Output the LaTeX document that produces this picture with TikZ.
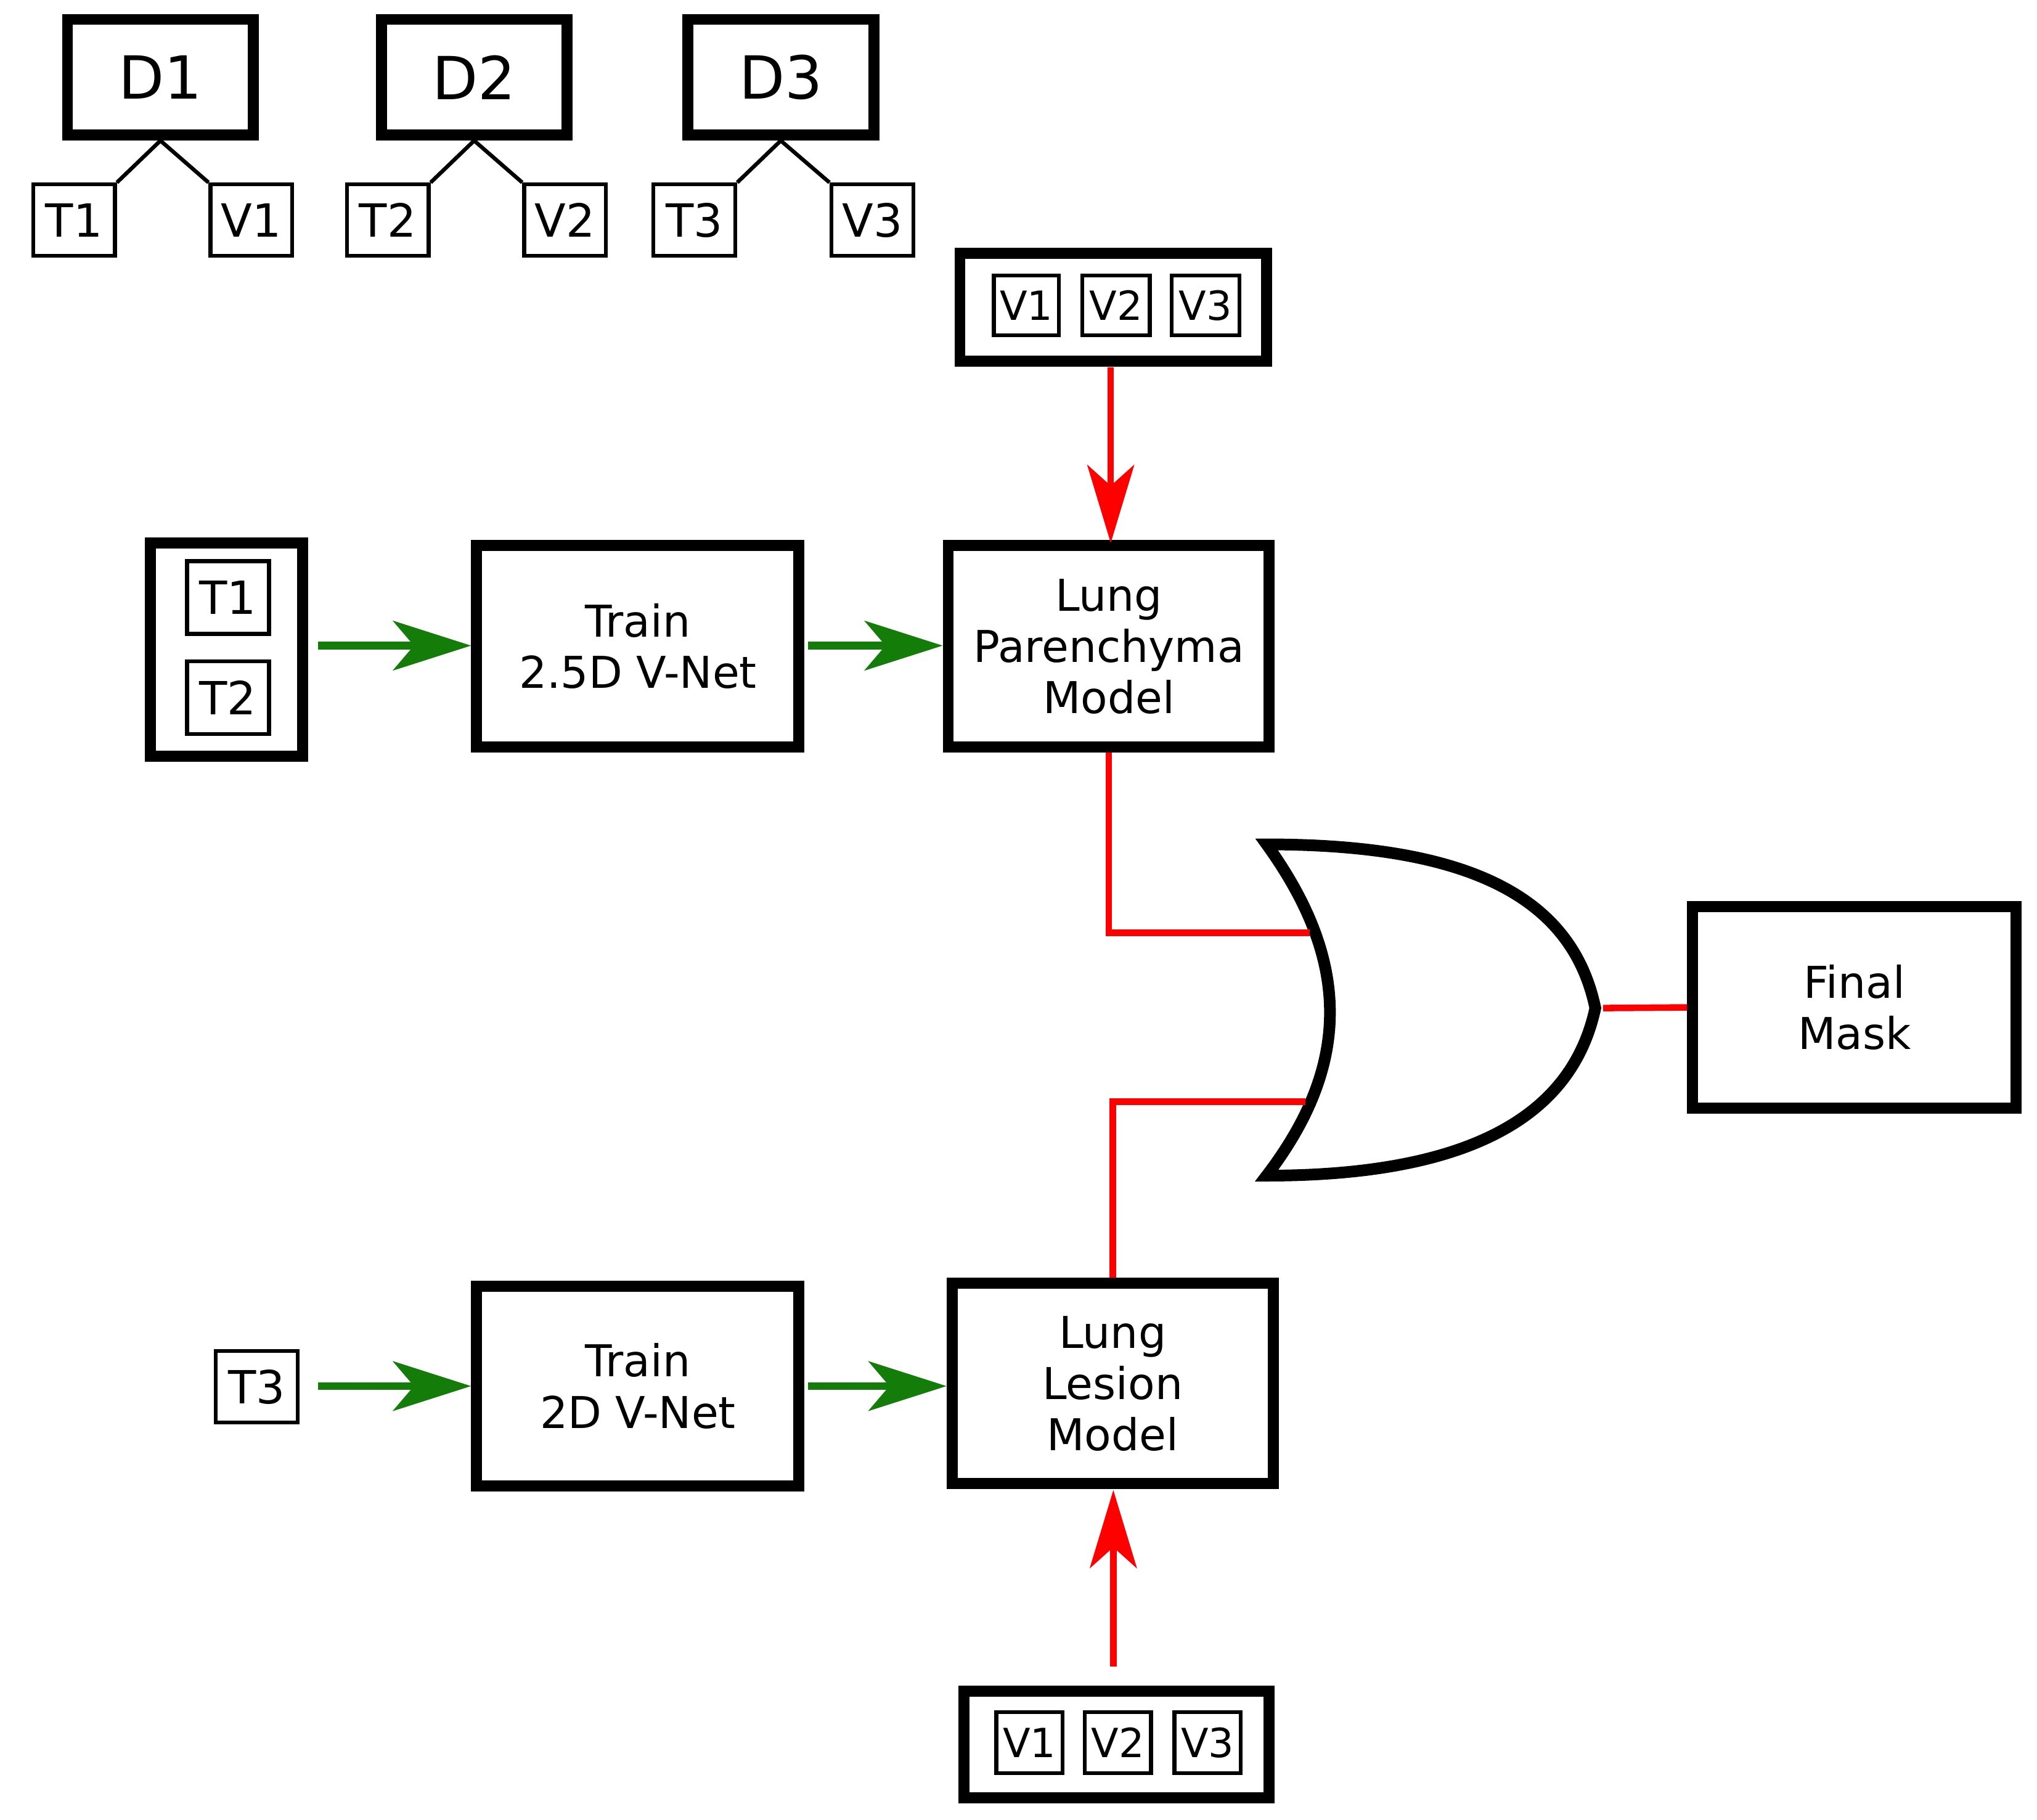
\documentclass[tikz,border=0pt]{standalone}
\usepackage{fontspec}
\setmainfont{DejaVu Sans}
\usetikzlibrary{arrows.meta}
\begin{document}
\begin{tikzpicture}[x=0.01cm,y=-0.01cm,
 big/.style={draw,line width=0.085cm,inner sep=0,align=center,font=\fontsize{9.6}{11.2}\selectfont},
 dbox/.style={draw,line width=0.085cm,inner sep=0,font=\fontsize{13}{15}\selectfont},
 sm/.style={draw,line width=0.03cm,inner sep=0,font=\fontsize{10}{12}\selectfont},
 smi/.style={draw,line width=0.03cm,inner sep=0,font=\fontsize{8.8}{10}\selectfont},
 grp/.style={draw,line width=0.085cm,inner sep=0},
 garr/.style={draw={rgb,255:red,20;green,125;blue,10},line width=0.06cm,-{Stealth[length=0.6cm,width=0.38cm,inset=0.16cm]}},
 rarr/.style={draw=red,line width=0.05cm,-{Stealth[length=0.6cm,width=0.36cm,inset=0.16cm]}},
 rl/.style={draw=red,line width=0.05cm}]
\useasboundingbox (0,0) rectangle (1568,1401);
% D trees
\foreach \n/\dx/\tx/\vx in {1/123.5/57/193.5,2/365/298.5/435,3/601/534.5/671.5}{
 \node[dbox,minimum width=1.43cm,minimum height=0.89cm] (D\n) at (\dx,59.5) {D\n};
 \node[sm,minimum width=0.63cm,minimum height=0.55cm] (T\n) at (\tx,169.5) {T\n};
 \node[sm,minimum width=0.63cm,minimum height=0.55cm] (V\n) at (\vx,169.5) {V\n};
 \draw[line width=0.03cm] (T\n.north east) -- (D\n.south) -- (V\n.north west);
}
% top V group
\node[grp,minimum width=2.36cm,minimum height=0.83cm] (gv) at (857,236.5) {};
\node[smi,minimum width=0.5cm,minimum height=0.46cm] (gv1) at (790,235) {V1};
\node[smi,minimum width=0.52cm,minimum height=0.46cm] (gv2) at (859,235) {V2};
\node[smi,minimum width=0.52cm,minimum height=0.46cm] (gv3) at (928,235) {V3};
% T group
\node[grp,minimum width=1.17cm,minimum height=1.64cm] (gt) at (174.5,500) {};
\node[sm,minimum width=0.63cm,minimum height=0.56cm] (gt1) at (175.5,460) {T1};
\node[sm,minimum width=0.63cm,minimum height=0.56cm] (gt2) at (175.5,537) {T2};
% main boxes
\node[big,minimum width=2.48cm,minimum height=1.55cm] (tr1) at (491,497.5) {Train\\2.5D V-Net};
\node[big,minimum width=2.47cm,minimum height=1.55cm] (lpm) at (853.5,497.5) {Lung\\Parenchyma\\Model};
\node[big,minimum width=2.49cm,minimum height=1.55cm] (fm) at (1427.5,775.5) {Final\\Mask};
\node[big,minimum width=2.47cm,minimum height=1.54cm] (llm) at (856.5,1065) {Lung\\Lesion\\Model};
\node[big,minimum width=2.48cm,minimum height=1.54cm] (tr2) at (491,1067) {Train\\2D V-Net};
\node[sm,minimum width=0.63cm,minimum height=0.55cm] (t3) at (197.5,1067.5) {T3};
% bottom V group
\node[grp,minimum width=2.35cm,minimum height=0.82cm] (bv) at (859.5,1343) {};
\node[smi,minimum width=0.51cm,minimum height=0.47cm] (bv1) at (792.5,1341.5) {V1};
\node[smi,minimum width=0.51cm,minimum height=0.47cm] (bv2) at (860.5,1341.5) {V2};
\node[smi,minimum width=0.51cm,minimum height=0.47cm] (bv3) at (929.5,1341.5) {V3};
% OR gate
\draw[line width=0.09cm,line join=miter] (975,650) .. controls (1040,740) and (1040,820) .. (975,905)
 .. controls (1130,905) and (1210,860) .. (1228,776)
 .. controls (1210,690) and (1130,650) .. cycle;
\coordinate (oa) at (1008,718);
\coordinate (ob) at (1005,848);
\coordinate (oo) at (1234,776);
\coordinate (g1) at (245,497);
\coordinate (g2) at (622,497);
\coordinate (g3) at (245,1067);
\coordinate (g4) at (622,1067);
\coordinate (r1) at (855,283);
\coordinate (r1e) at (855,418);
\coordinate (r2) at (857,1283);
\coordinate (r2e) at (857,1147);
% connectors
\draw[garr] (g1) -- (tr1.west|-g1);
\draw[garr] (g2) -- (lpm.west|-g2);
\draw[garr] (g3) -- (tr2.west|-g3);
\draw[garr] (g4) -- (llm.west|-g4);
\draw[rarr] (r1) -- (r1e);
\draw[rarr] (r2) -- (r2e);
\draw[rl] (lpm.south) |- (oa);
\draw[rl] (llm.north) |- (ob);
\draw[rl] (oo) -- (fm.west);
\end{tikzpicture}
\end{document}
